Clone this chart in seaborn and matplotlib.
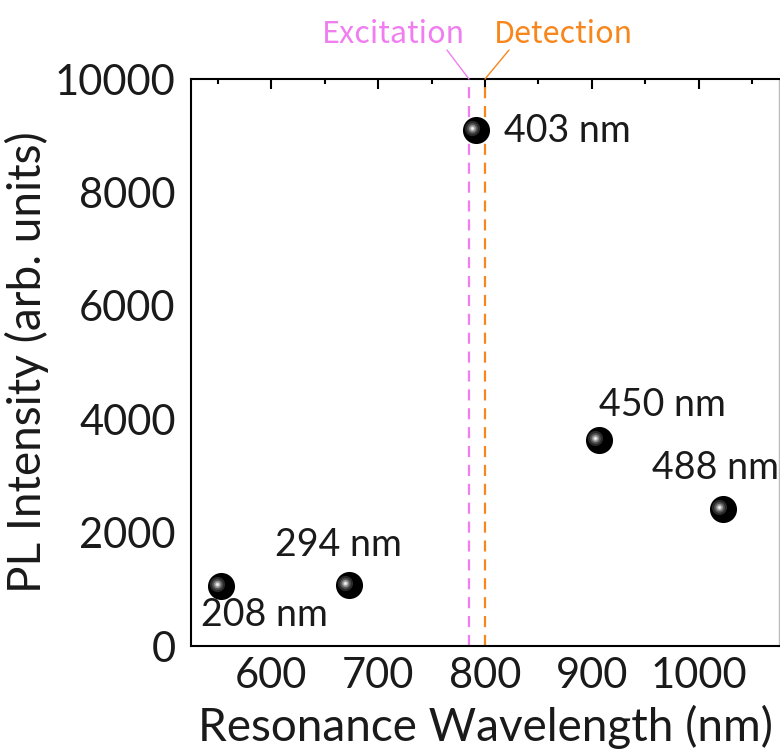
import matplotlib
matplotlib.use("Agg")
import matplotlib.pyplot as plt
import matplotlib.transforms as mtransforms
from matplotlib.ticker import MultipleLocator
import pandas as pd
import seaborn as sns

# Peak resonance wavelength vs. PL intensity for each nanostructure size
wavelength = [553, 673, 792, 907, 1023]
intensity = [1065, 1075, 9100, 3630, 2410]
size_labels = ["208 nm", "294 nm", "403 nm", "450 nm", "488 nm"]
excitation_nm = 785
detection_nm = 800

df = pd.DataFrame({"wavelength": wavelength, "intensity": intensity, "size": size_labels})

sns.set_theme(style="white")
plt.rcParams["font.family"] = ["Lato", "DejaVu Sans"]

fig = plt.figure(figsize=(7.8, 7.54), dpi=100)
ax = fig.add_axes([0.2449, 0.1432, 0.7538, 0.752])

# vertical markers for the laser lines
ax.axvline(excitation_nm, color="#f07ef0", lw=1.6, ls=(0, (5, 3.5)), zorder=1)
ax.axvline(detection_nm, color="#f7861c", lw=1.6, ls=(0, (5, 3.5)), zorder=1)

# shaded spheres: dark body plus a soft highlight offset up-left
sns.scatterplot(data=df, x="wavelength", y="intensity", ax=ax, s=380,
                color="black", edgecolor="black", linewidth=0, zorder=3, legend=False)
hl = mtransforms.offset_copy(ax.transData, fig=fig, x=-4, y=2, units="dots")
for s, c in [(120, "#2a2a2a"), (60, "#555555"), (28, "#8c8c8c"), (10, "#c8c8c8"), (3, "#f2f2f2")]:
    ax.scatter(df["wavelength"], df["intensity"], s=s, color=c, linewidths=0,
               transform=hl, zorder=4)

# size labels next to each point
offsets = [(43, -29, "center"), (-11, 40, "center"), (28, -1, "left"),
           (63, 35, "center"), (-8, 41, "center")]
for x, y, lab, (dx, dy, ha) in zip(wavelength, intensity, size_labels, offsets):
    ax.annotate(lab, xy=(x, y), xytext=(dx, dy), textcoords="offset pixels",
                ha=ha, va="center", fontsize=27, color="#1a1a1a")

# labels above the frame with short leader lines
top = mtransforms.blended_transform_factory(ax.transData, ax.transAxes)
for xv, col, lab, (lx, ly), (tx, ha) in [
        (excitation_nm, "#f07ef0", "Excitation", (-22, 29), (-4, "right")),
        (detection_nm, "#f7861c", "Detection", (24, 29), (9, "left"))]:
    ax.annotate("", xy=(xv, 1), xycoords=top, xytext=(lx, ly), textcoords="offset pixels",
                arrowprops=dict(arrowstyle="-", color=col, lw=1.0, shrinkA=0, shrinkB=0),
                annotation_clip=False)
    ax.annotate(lab, xy=(xv, 1), xycoords=top, xytext=(tx, 45), textcoords="offset pixels",
                ha=ha, va="center", fontsize=22, color=col,
                family=["Noto Sans CJK JP", "DejaVu Sans"], annotation_clip=False)

ax.set_xlim(525, 1075)
ax.set_ylim(0, 10000)
ax.xaxis.set_major_locator(MultipleLocator(100))
ax.xaxis.set_minor_locator(MultipleLocator(50))
ax.yaxis.set_major_locator(MultipleLocator(2000))
ax.yaxis.set_minor_locator(MultipleLocator(1000))
ax.tick_params(which="both", direction="in", top=True, right=False, color="black",
               labelsize=30, labelcolor="#1a1a1a", width=1.5)
ax.tick_params(which="major", length=7.5)
ax.tick_params(which="minor", length=3.8)
ax.tick_params(axis="y", pad=11)
ax.tick_params(axis="x", pad=8)
for sp in ax.spines.values():
    sp.set_color("black")
    sp.set_linewidth(1.5)
ax.spines["right"].set_color("#bbbbbb")
ax.spines["right"].set_linewidth(1.0)

ax.set_xlabel("Resonance Wavelength (nm)", fontsize=33, color="#1a1a1a", labelpad=7)
ax.set_ylabel("PL Intensity (arb. units)", fontsize=33, color="#1a1a1a", labelpad=4)

fig.savefig("out.png", dpi=100)
